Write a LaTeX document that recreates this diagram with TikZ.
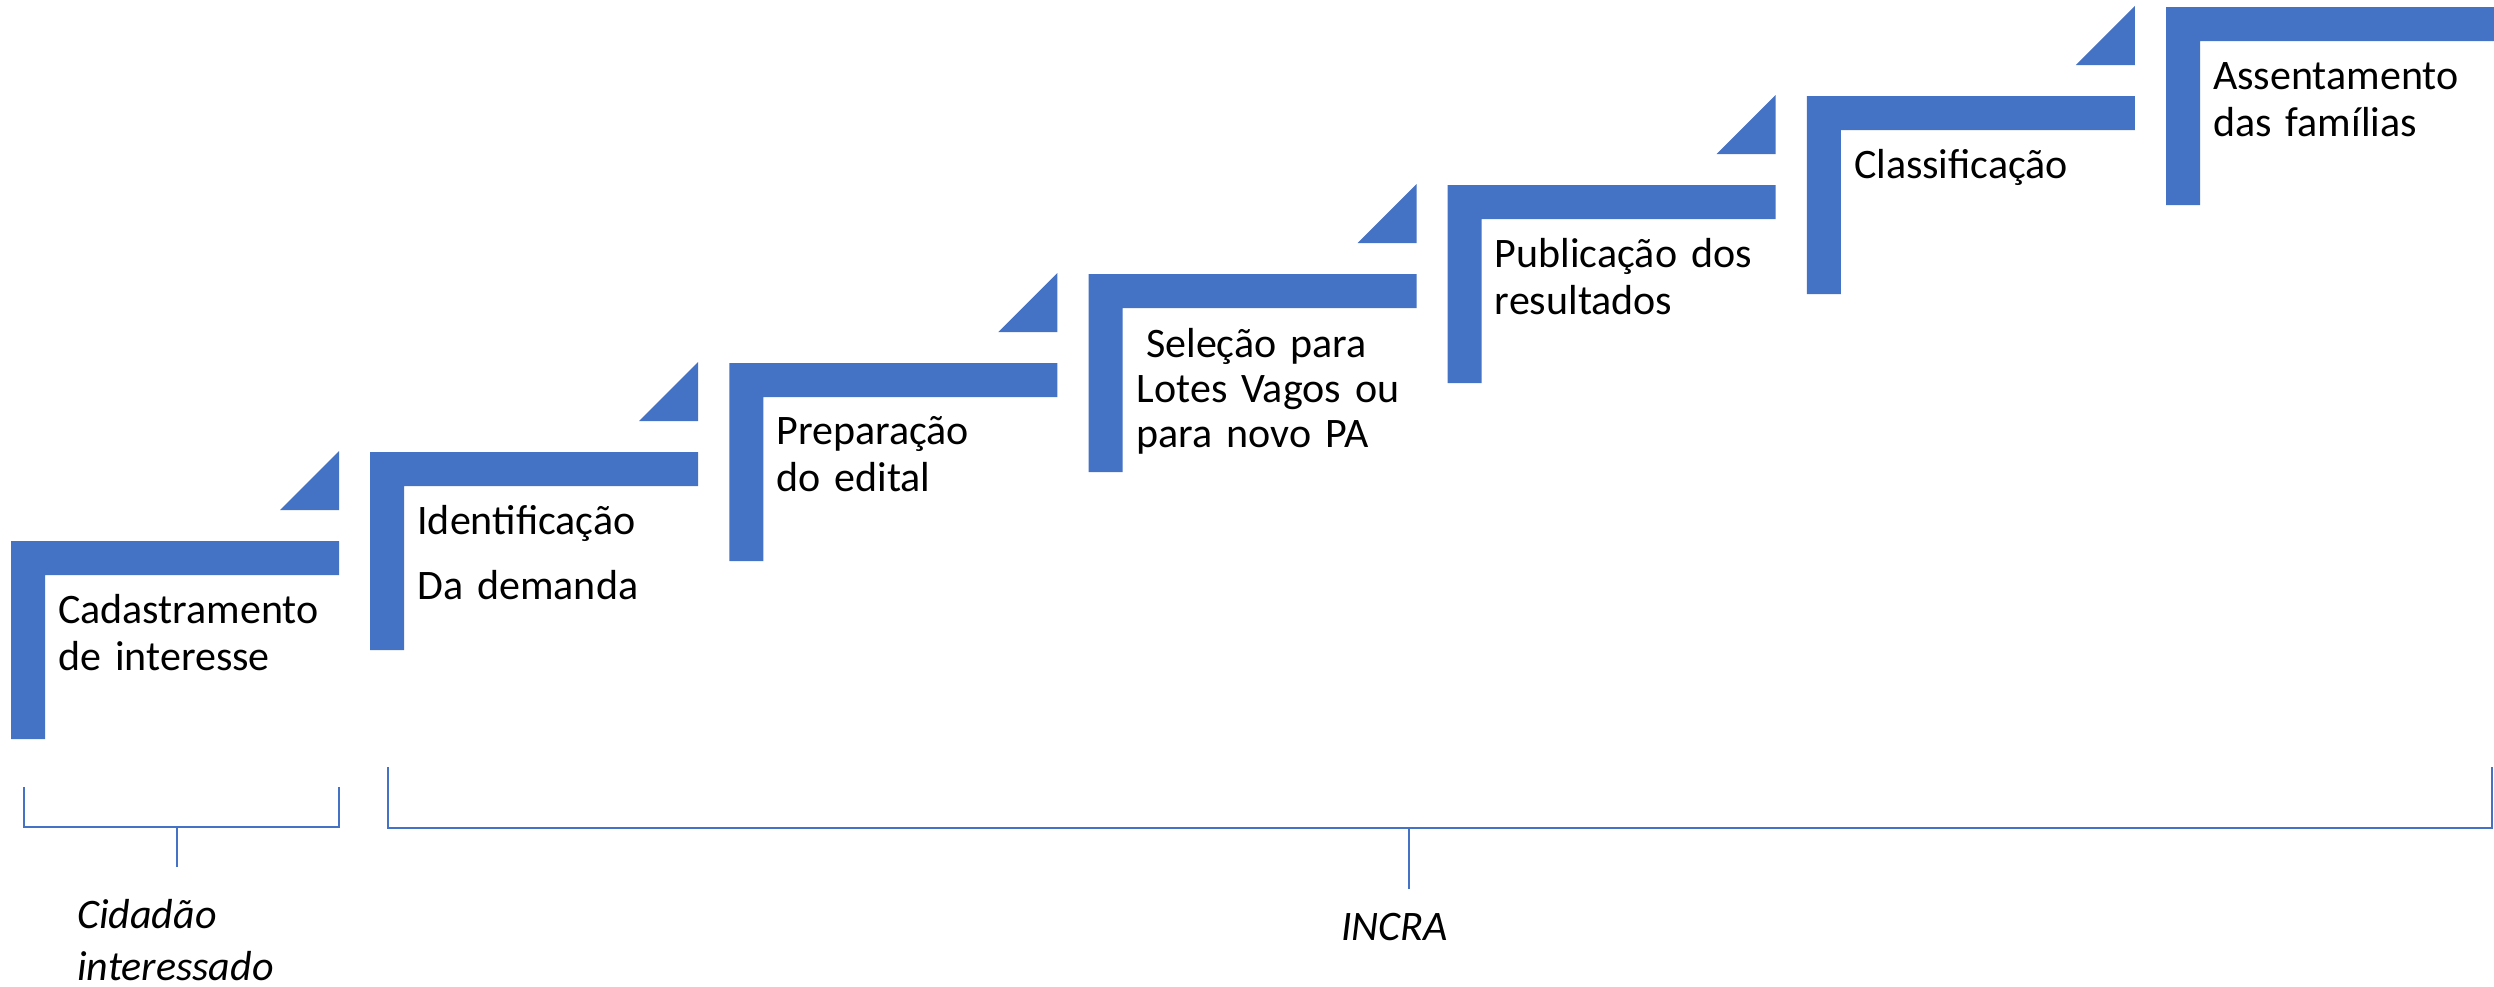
\documentclass[tikz,border=0pt]{standalone}
\usepackage{fontspec}
\setmainfont{Carlito}
\definecolor{stepblue}{HTML}{4472C4}
\newcommand{\stairstep}[2]{%
  \path[stepshape] (#1,#2) -- ++(328,0) -- ++(0,34) -- ++(-294,0) -- ++(0,164) -- ++(-34,0) -- cycle;}
\newcommand{\stairflag}[2]{%
  \path[stepshape] (#1+269,#2-31) -- ++(59,0) -- ++(0,-59) -- cycle;}
\tikzset{
  stepshape/.style={fill=stepblue, draw=none},
  steplabel/.style={anchor=base west, inner sep=0pt, text width=340pt, align=left,
    font=\fontsize{42}{47}\selectfont},
  grouplabel/.style={anchor=base west, inner sep=0pt, text width=300pt, align=left,
    font=\itshape\fontsize{42}{52}\selectfont},
  bracketline/.style={draw=stepblue, line width=2.8pt}
}
\begin{document}
\begin{tikzpicture}[x=1pt,y=-1pt]
\useasboundingbox (0,0) rectangle (2494,986);
% steps
\stairstep{11}{541}    \stairflag{11}{541}
\stairstep{370.2}{452} \stairflag{370.2}{452}
\stairstep{729.3}{363} \stairflag{729.3}{363}
\stairstep{1088.5}{274}\stairflag{1088.5}{274}
\stairstep{1447.7}{185}\stairflag{1447.7}{185}
\stairstep{1806.8}{96} \stairflag{1806.8}{96}
\stairstep{2166}{7}
% labels
\node[steplabel] (s1) at (58,623) {Cadastramento\\de interesse};
\node[steplabel] (s2) at (417.2,534) {Identificação\\[18pt]Da demanda};
\node[steplabel] (s3) at (776.3,444) {Preparação\\do edital};
\node[steplabel, font=\fontsize{42}{45}\selectfont] (s4) at (1136.5,357) {\hspace*{9.5pt}Seleção para\\Lotes Vagos ou\\para novo PA};
\node[steplabel] (s5) at (1494.7,267) {Publicação dos\\resultados};
\node[steplabel] (s6) at (1853.8,178) {Classificação};
\node[steplabel] (s7) at (2213,89) {Assentamento\\das famílias};
% brackets
\coordinate (c1) at (24,787);
\coordinate (c2) at (24,827);
\coordinate (c3) at (339,827);
\coordinate (c4) at (339,787);
\coordinate (ct1) at (177,827);
\coordinate (ct2) at (177,867);
\draw[bracketline] (c1) -- (c2) -- (c3) -- (c4);
\draw[bracketline] (ct1) -- (ct2);
\coordinate (i1) at (388,767);
\coordinate (i2) at (388,828);
\coordinate (i3) at (2492,828);
\coordinate (i4) at (2492,767);
\coordinate (it1) at (1409,828);
\coordinate (it2) at (1409,889);
\draw[bracketline] (i1) -- (i2) -- (i3) -- (i4);
\draw[bracketline] (it1) -- (it2);
\node[grouplabel] (g1) at (77,928) {Cidadão\\interessado};
\node[grouplabel] (g2) at (1341,940) {INCRA};
\end{tikzpicture}
\end{document}
